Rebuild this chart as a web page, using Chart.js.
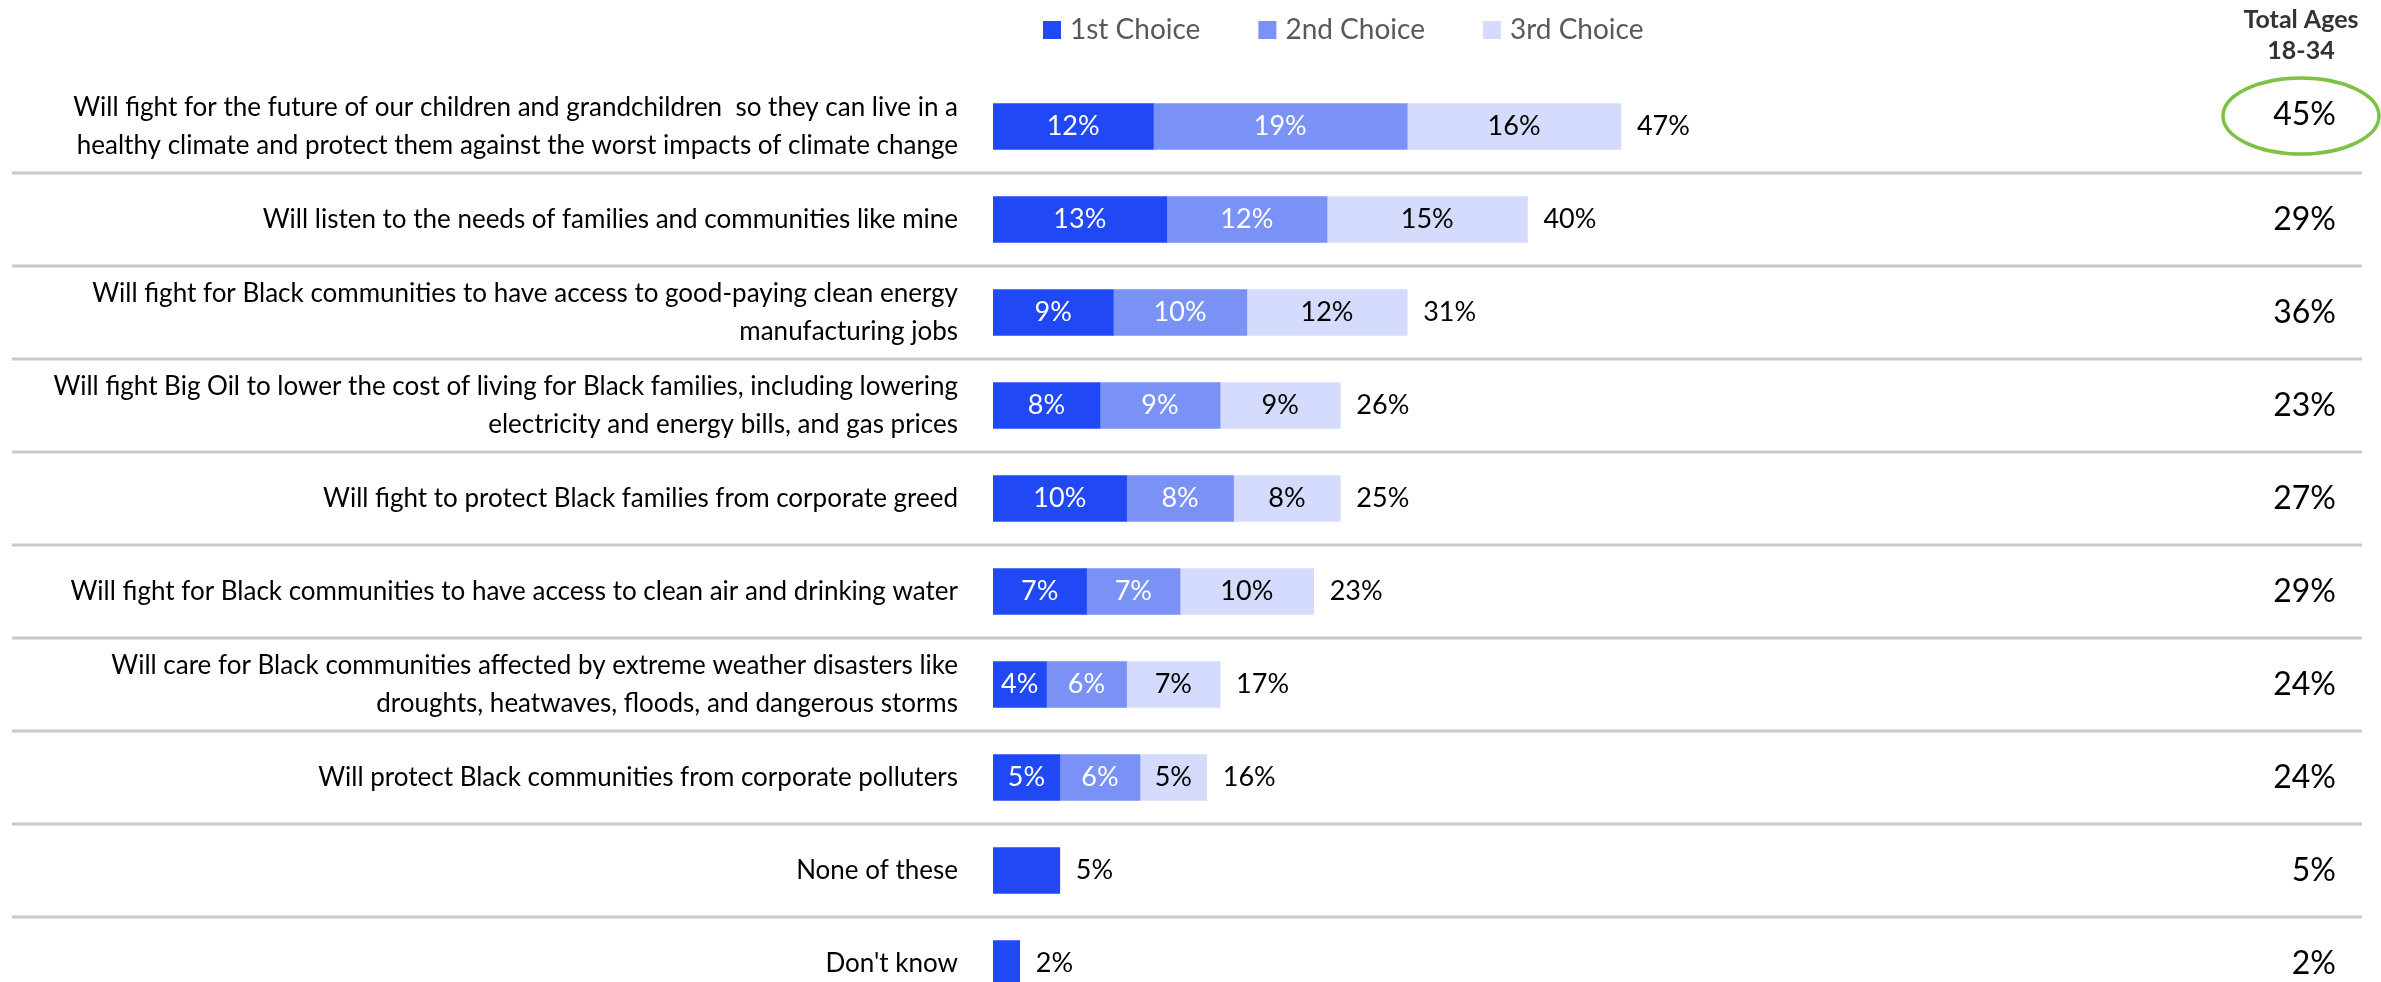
<!DOCTYPE html>
<html>
<head>
<meta charset="utf-8">
<script src="https://cdn.jsdelivr.net/npm/chart.js@4.4.1/dist/chart.umd.min.js"></script>
<style>
  html, body { margin: 0; padding: 0; background: #fff; }
  #wrap { width: 2381px; height: 982px; overflow: hidden; }
</style>
</head>
<body>
<div id="wrap"><canvas id="priorities" width="2381" height="1010"></canvas></div>
<script>
const statements = [
  ["Will fight for the future of our children and grandchildren  so they can live in a", "healthy climate and protect them against the worst impacts of climate change"],
  "Will listen to the needs of families and communities like mine",
  ["Will fight for Black communities to have access to good-paying clean energy", "manufacturing jobs"],
  ["Will fight Big Oil to lower the cost of living for Black families, including lowering", "electricity and energy bills, and gas prices"],
  "Will fight to protect Black families from corporate greed",
  "Will fight for Black communities to have access to clean air and drinking water",
  ["Will care for Black communities affected by extreme weather disasters like", "droughts, heatwaves, floods, and dangerous storms"],
  "Will protect Black communities from corporate polluters",
  "None of these",
  "Don't know"
];
const firstChoice  = [12, 13, 9, 8, 10, 7, 4, 5, 5, 2];
const secondChoice = [19, 12, 10, 9, 8, 7, 6, 6, null, null];
const thirdChoice  = [16, 15, 12, 9, 8, 10, 7, 5, null, null];
// combined (rounded) totals printed after each bar
const combined     = [47, 40, 31, 26, 25, 23, 17, 16, 5, 2];
// right hand column
const ages18to34   = [45, 29, 36, 23, 27, 29, 24, 24, 5, 2];

const FONT = 'Lato, "Open Sans", sans-serif';

// grey rules between the rows, full width
const rowLines = {
  id: 'rowLines',
  beforeDatasetsDraw(chart) {
    const ctx = chart.ctx, y = chart.scales.y;
    ctx.save();
    ctx.strokeStyle = '#c9c9c9';
    ctx.lineWidth = 3;
    for (let i = 0; i < statements.length - 1; i++) {
      const mid = (y.getPixelForValue(i) + y.getPixelForValue(i + 1)) / 2;
      ctx.beginPath();
      ctx.moveTo(12, mid);
      ctx.lineTo(2362, mid);
      ctx.stroke();
    }
    ctx.restore();
  }
};

// percentages inside the segments + combined total after the stack
const barLabels = {
  id: 'barLabels',
  afterDatasetsDraw(chart) {
    const ctx = chart.ctx;
    ctx.save();
    ctx.font = '27px ' + FONT;
    ctx.textBaseline = 'middle';
    const ends = [];
    chart.data.datasets.forEach((ds, d) => {
      chart.getDatasetMeta(d).data.forEach((bar, i) => {
        if (ds.data[i] == null) return;
        const p = bar.getProps(['x', 'base', 'y'], true);
        ends[i] = Math.max(ends[i] || 0, p.x);
        if (secondChoice[i] == null) return;
        ctx.fillStyle = d < 2 ? '#ffffff' : '#000000';
        ctx.textAlign = 'center';
        ctx.fillText(ds.data[i] + '%', (p.x + p.base) / 2, p.y);
      });
    });
    const y = chart.scales.y;
    ctx.fillStyle = '#000000';
    ctx.textAlign = 'left';
    combined.forEach((v, i) => {
      ctx.fillText(v + '%', ends[i] + 16, y.getPixelForValue(i));
    });
    ctx.restore();
  }
};

// legend row + "Total Ages 18-34" column
const extras = {
  id: 'extras',
  afterDraw(chart) {
    const ctx = chart.ctx, y = chart.scales.y;
    ctx.save();
    ctx.textBaseline = 'middle';

    ctx.font = '28px ' + FONT;
    let lx = 1043;
    chart.data.datasets.forEach(ds => {
      ctx.fillStyle = ds.backgroundColor;
      ctx.fillRect(lx, 21, 18, 18);
      ctx.fillStyle = '#595959';
      ctx.textAlign = 'left';
      ctx.fillText(ds.label, lx + 27, 30);
      lx += 27 + ctx.measureText(ds.label).width + 58;
    });

    ctx.fillStyle = '#333333';
    ctx.textAlign = 'center';
    ctx.font = 'bold 25px ' + FONT;
    ctx.fillText('Total Ages', 2301, 20);
    ctx.fillText('18-34', 2301, 51);

    ctx.fillStyle = '#000000';
    ctx.textAlign = 'right';
    ctx.font = '32px ' + FONT;
    ages18to34.forEach((v, i) => {
      ctx.fillText(v + '%', 2336, y.getPixelForValue(i) - (i === 0 ? 12 : 0));
    });

    ctx.strokeStyle = '#7dc244';
    ctx.lineWidth = 3.5;
    ctx.beginPath();
    ctx.ellipse(2301, 116, 78, 38, 0, 0, Math.PI * 2);
    ctx.stroke();
    ctx.restore();
  }
};

new Chart(document.getElementById('priorities'), {
  type: 'bar',
  data: {
    labels: statements,
    datasets: [
      { label: '1st Choice', data: firstChoice,  backgroundColor: '#2148f5' },
      { label: '2nd Choice', data: secondChoice, backgroundColor: '#7a92f6' },
      { label: '3rd Choice', data: thirdChoice,  backgroundColor: '#d4dbfc' }
    ]
  },
  options: {
    indexAxis: 'y',
    responsive: false,
    animation: false,
    barThickness: 46,
    layout: { padding: { top: 80, right: 52, bottom: 0, left: 0 } },
    plugins: {
      legend: { display: false },
      tooltip: { enabled: false }
    },
    scales: {
      x: { stacked: true, display: false, min: 0, max: 100 },
      y: {
        stacked: true,
        grid: { display: false },
        border: { display: false },
        ticks: {
          color: '#000000',
          padding: 27,
          font: { family: FONT, size: 26, lineHeight: 1.45 }
        },
        afterFit(scale) {
          // fixed label column; rows fill the full height
          scale.width = 993;
          scale.paddingTop = 0;
          scale.paddingBottom = 0;
        }
      }
    }
  },
  plugins: [rowLines, barLabels, extras]
});
</script>
</body>
</html>
